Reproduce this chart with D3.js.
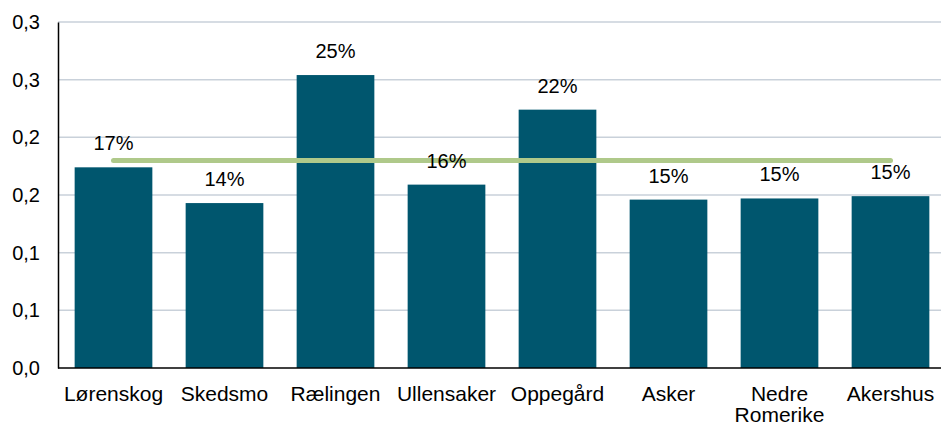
<!DOCTYPE html>
<html>
<head>
<meta charset="utf-8">
<script src="https://cdn.jsdelivr.net/npm/d3@7"></script>
<style>
	body { margin: 0; background: #fff; }
	text { font-family: "Liberation Sans", Arial, sans-serif; fill: #000; }
</style>
</head>
<body>
<script>
// Data
var categories = ['Lørenskog', 'Skedsmo', 'Rælingen', 'Ullensaker', 'Oppegård', 'Asker', 'Nedre Romerike', 'Akershus'];
var values = [0.174, 0.143, 0.254, 0.159, 0.224, 0.146, 0.147, 0.149];
var average = [0.18, 0.18, 0.18, 0.18, 0.18, 0.18, 0.18, 0.18];
var yTicks = [0, 0.05, 0.1, 0.15, 0.2, 0.25, 0.3];

var svgW = 941, svgH = 426, m = {l:58, r:-5, t:22, b:58};
var font = '"Liberation Sans", Arial, sans-serif';

var svg = d3.select('body').append('svg').attr('width', svgW).attr('height', svgH);

var x = d3.scaleBand().domain(categories).range([m.l, svgW - m.r]).paddingInner(0.3).paddingOuter(0.15);
var y = d3.scaleLinear().domain([0, 0.3]).range([svgH - m.b, m.t]);

// gridlines
svg.append('g').selectAll('line').data(yTicks.slice(1)).enter().append('line')
	.attr('x1', m.l).attr('x2', svgW)
	.attr('y1', function(d){ return y(d); }).attr('y2', function(d){ return y(d); })
	.attr('stroke', '#c9d1da').attr('stroke-width', 1.5);

// bars
svg.append('g').selectAll('rect').data(values).enter().append('rect')
	.attr('x', function(d, i){ return x(categories[i]); })
	.attr('y', function(d){ return y(d); })
	.attr('width', x.bandwidth())
	.attr('height', function(d){ return y(0) - y(d); })
	.attr('fill', '#00566e');

// average line
var line = d3.line()
	.x(function(d, i){ return x(categories[i]) + x.bandwidth() / 2; })
	.y(function(d){ return y(d); });
svg.append('path').datum(average).attr('d', line)
	.attr('fill', 'none').attr('stroke', '#afc98a').attr('stroke-width', 5).attr('stroke-linecap', 'round');

// bar labels
svg.append('g').selectAll('text').data(values).enter().append('text')
	.attr('x', function(d, i){ return x(categories[i]) + x.bandwidth() / 2; })
	.attr('y', function(d){ return y(d) - 17; })
	.attr('text-anchor', 'middle').style('font-size', '20px')
	.text(function(d){ return Math.round(d * 100) + '%'; });

// y axis, one decimal with comma (0,05 shows as 0,1 as in the original)
var yAxis = d3.axisLeft(y).tickValues(yTicks).tickSize(0).tickPadding(18)
	.tickFormat(function(d){ return (Math.round(d * 10 + 1e-9) / 10).toFixed(1).replace('.', ','); });
var gy = svg.append('g').attr('transform', 'translate(' + m.l + ',0)').call(yAxis);
gy.select('.domain').attr('stroke', '#000').attr('stroke-width', 1.5);
gy.selectAll('text').style('font-size', '20px').style('font-family', font);

// x axis
var xAxis = d3.axisBottom(x).tickSize(0).tickPadding(0).tickSizeOuter(0);
var gx = svg.append('g').attr('transform', 'translate(0,' + y(0) + ')').call(xAxis);
gx.select('.domain').attr('d', 'M' + m.l + ',0H' + svgW).attr('stroke', '#000').attr('stroke-width', 1.5);
gx.selectAll('text').style('font-size', '21px').style('font-family', font)
	.each(function(d){
		var t = d3.select(this), words = d.split(' ');
		t.text(null);
		words.forEach(function(w, i){
			t.append('tspan').attr('x', 0).attr('dy', i == 0 ? '1.55em' : '1.0em').text(w);
		});
	});
</script>
</body>
</html>
